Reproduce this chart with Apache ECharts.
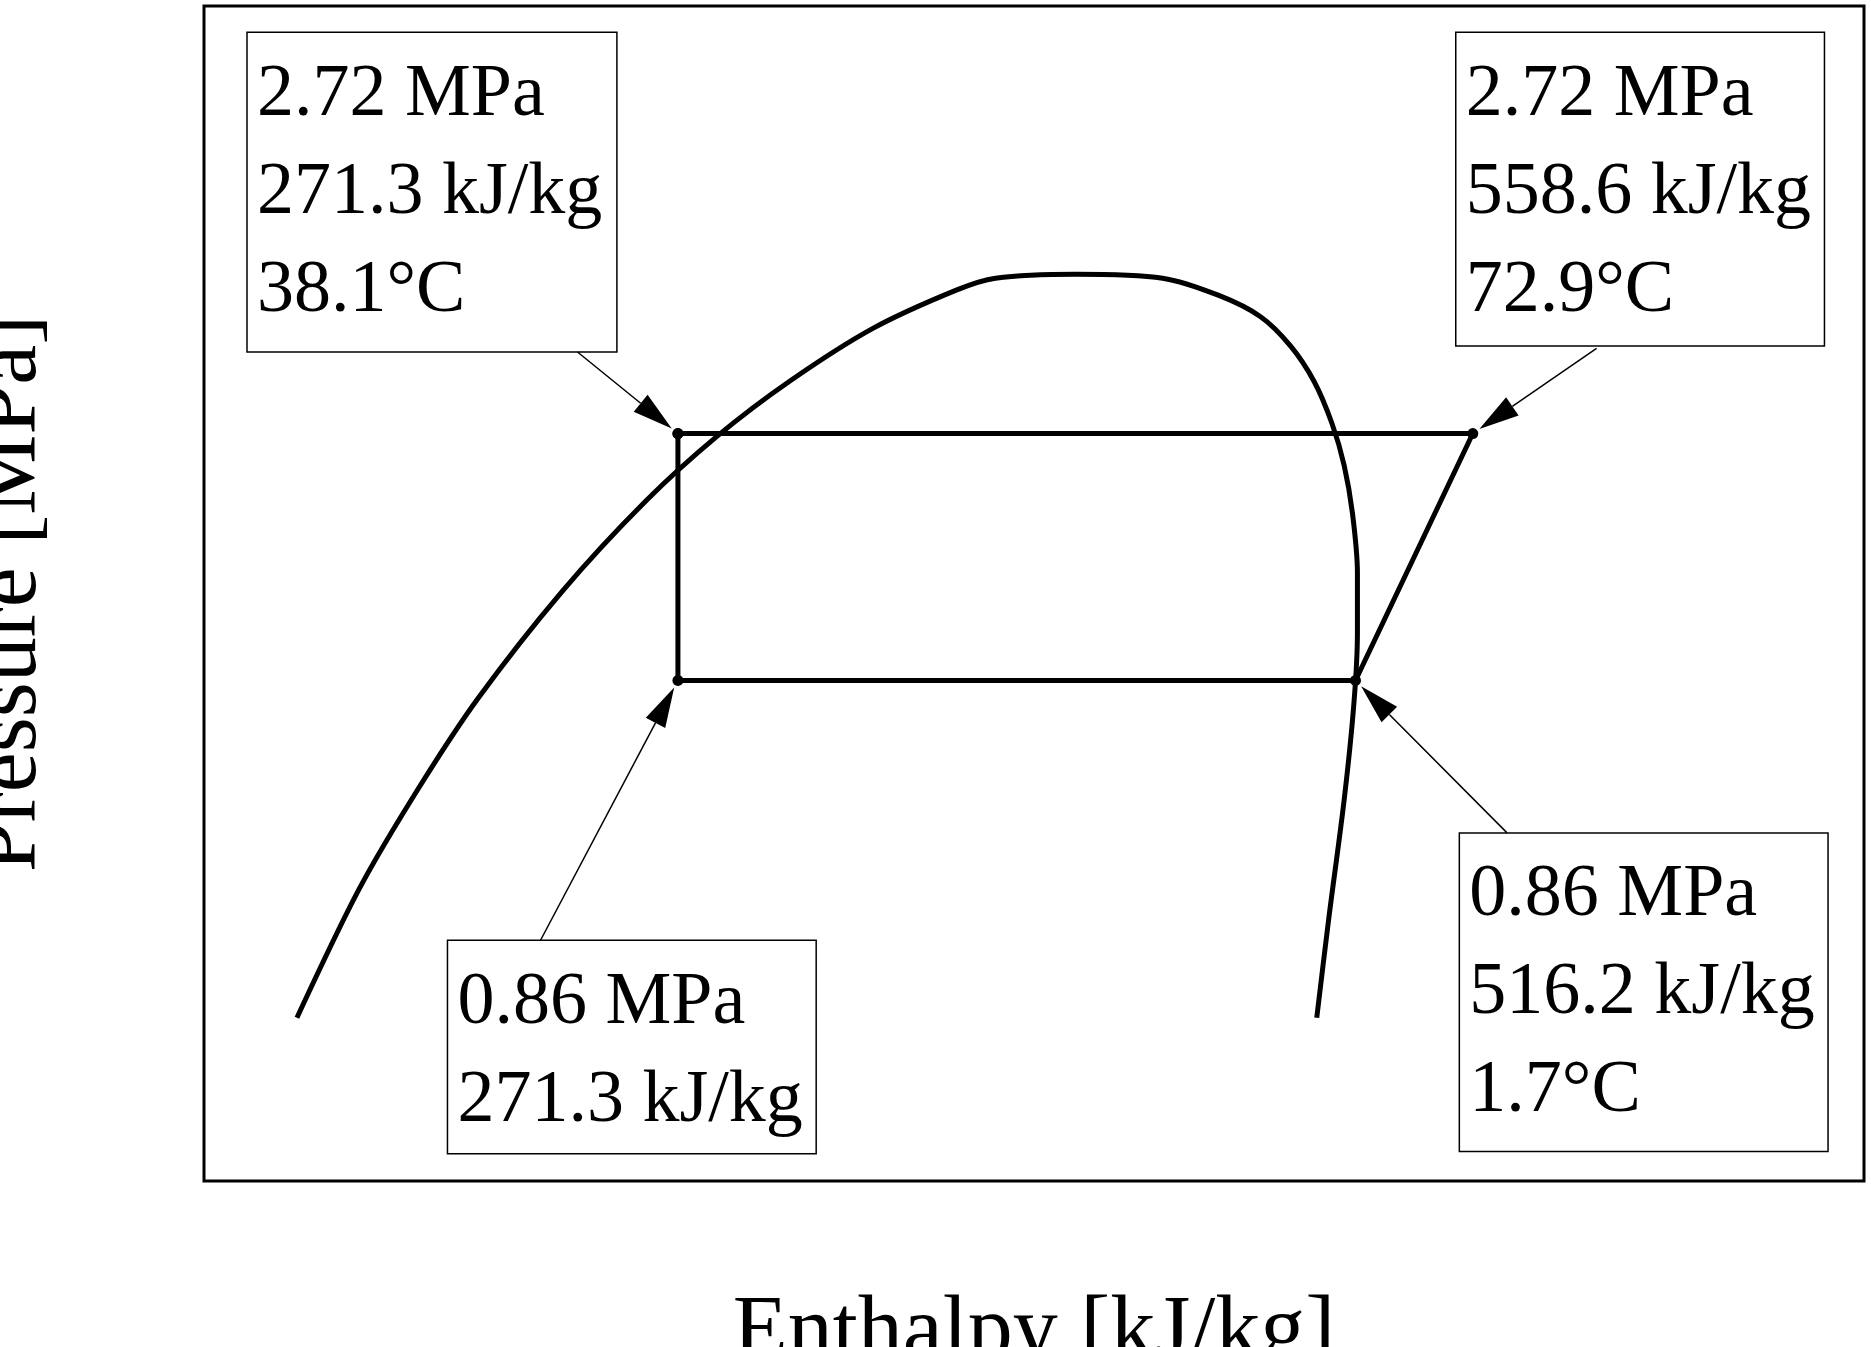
<!DOCTYPE html>
<html><head><meta charset="utf-8">
<script src="https://cdn.jsdelivr.net/npm/echarts@6/dist/echarts.min.js"></script>
<style>html,body{margin:0;padding:0;background:#fff}#c{width:1871px;height:1347px}</style>
</head><body><div id="c"></div>
<script>
// Saturation dome (enthalpy kJ/kg, pressure-axis value)
const domeH = [133.6,156.1,177.6,199.2,229.4,259.6,285.5,311.4,341.6,371.9,386.1,415.0,446.5,466.8,481.9,492.7,501.3,507.8,512.1,515.1,516.9,516.9,515.6,512.1,506.5,502.2];
const domeP = [-1.68,-0.71,0.05,0.73,1.53,2.21,2.70,3.11,3.51,3.80,3.89,3.92,3.89,3.76,3.60,3.38,3.11,2.79,2.48,2.12,1.67,1.22,0.68,-0.04,-0.94,-1.68];
// Cycle state points
const cycleH = [271.3,558.6,516.2,271.3,271.3];
const cycleP = [2.72,2.72,0.86,0.86,2.72];
const labels = [
  ['2.72 MPa','271.3 kJ/kg','38.1°C'],
  ['2.72 MPa','558.6 kJ/kg','72.9°C'],
  ['0.86 MPa','271.3 kJ/kg'],
  ['0.86 MPa','516.2 kJ/kg','1.7°C']
];
const s = 1871/1568;
const chart = echarts.init(document.getElementById('c'));
const FONT = '"Liberation Serif","Times New Roman",serif';
chart.setOption({
  animation:false,
  grid:{left:204,top:6,right:7,bottom:166,outerBoundsMode:'none',containLabel:false,show:true,borderColor:'#000',borderWidth:3},
  xAxis:{type:'value',min:100,max:700,axisLine:{show:false},axisTick:{show:false},axisLabel:{show:false},splitLine:{show:false},
    name:'Enthalpy [kJ/kg]',nameLocation:'middle',nameGap:108,nameTextStyle:{fontFamily:FONT,fontSize:90,color:'#000'}},
  yAxis:{type:'value',min:-2.91,max:5.94,axisLine:{show:false},axisTick:{show:false},axisLabel:{show:false},splitLine:{show:false},
    name:'Pressure [MPa]',nameLocation:'middle',nameGap:148,nameTextStyle:{fontFamily:FONT,fontSize:90,color:'#000'}},
  series:[
    {type:'line',data:domeH.map((h,i)=>[h,domeP[i]]),smooth:0.3,showSymbol:false,lineStyle:{color:'#000',width:5}},
    {type:'line',data:cycleH.map((h,i)=>[h,cycleP[i]]),symbol:'circle',symbolSize:11,itemStyle:{color:'#000'},lineStyle:{color:'#000',width:5}}
  ]
});
const boxes = [
  {x:207,y:27,w:310,h:268, from:[484,295], pt:[cycleH[0],cycleP[0]]},
  {x:1220,y:27,w:309,h:263, from:[1338,292], pt:[cycleH[1],cycleP[1]]},
  {x:375,y:788,w:309,h:179, from:[453,788], pt:[cycleH[3],cycleP[3]]},
  {x:1223,y:698,w:309,h:267, from:[1263,698], pt:[cycleH[2],cycleP[2]]}
];
const g = [];
boxes.forEach((b,i)=>{
  g.push({type:'rect',shape:{x:b.x*s,y:b.y*s,width:b.w*s,height:b.h*s},style:{fill:'#fff',stroke:'#000',lineWidth:1.5}});
  g.push({type:'text',x:b.x*s+10,y:b.y*s+14,style:{text:labels[i].join('\n'),font:'74px '+FONT,fill:'#000',lineHeight:98,verticalAlign:'top'}});
  const p = chart.convertToPixel({gridIndex:0},b.pt);
  const fx=b.from[0]*s, fy=b.from[1]*s;
  const dx=p[0]-fx, dy=p[1]-fy, L=Math.hypot(dx,dy), ux=dx/L, uy=dy/L;
  const tipx=p[0]-ux*8, tipy=p[1]-uy*8, hl=40, hw=11;
  const bx=tipx-ux*hl, by=tipy-uy*hl;
  g.push({type:'line',shape:{x1:fx,y1:fy,x2:bx,y2:by},style:{stroke:'#000',lineWidth:1.5}});
  g.push({type:'polygon',shape:{points:[[tipx,tipy],[bx-uy*hw,by+ux*hw],[bx+uy*hw,by-ux*hw]]},style:{fill:'#000'}});
});
chart.setOption({graphic:g});
</script></body></html>
